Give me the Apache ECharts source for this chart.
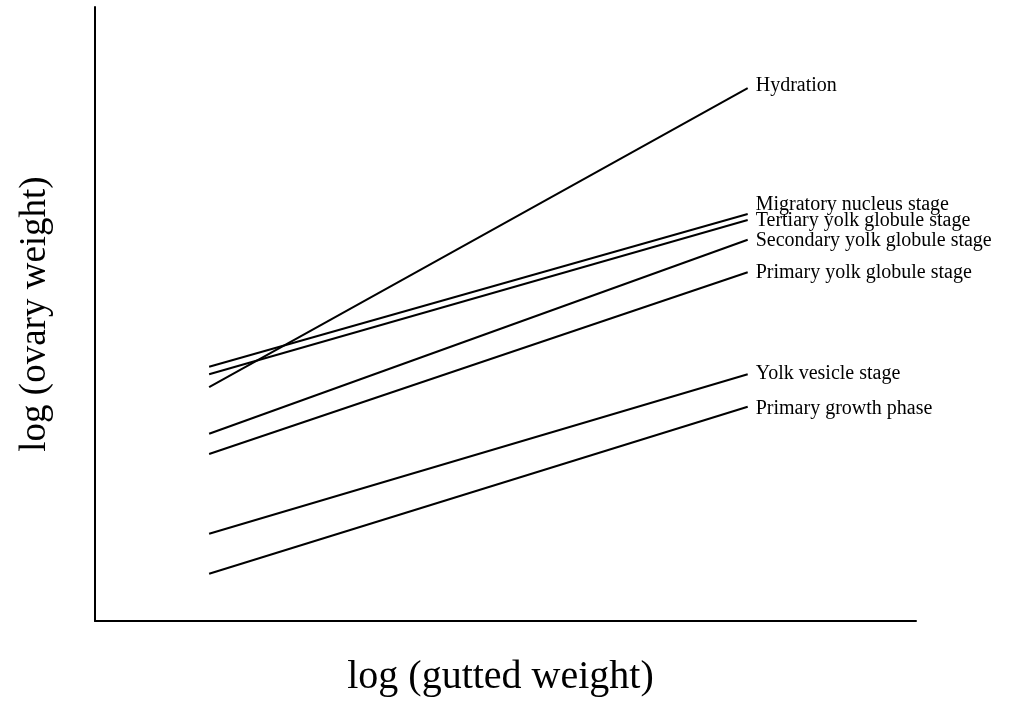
<!DOCTYPE html>
<html><head><meta charset="utf-8">
<script src="https://cdn.jsdelivr.net/npm/echarts@6/dist/echarts.min.js"></script>
<style>html,body{margin:0;padding:0;background:#fff}#c{width:1019px;height:701px}</style>
</head><body><div id="c"></div>
<script>
var stages = ["Hydration","Migratory nucleus stage","Tertiary yolk globule stage","Secondary yolk globule stage","Primary yolk globule stage","Yolk vesicle stage","Primary growth phase"];
var xStart = 1.39, xEnd = 7.95;
var yStart = [3.81, 4.14, 4.02, 3.05, 2.72, 1.42, 0.77];
var yEnd   = [8.68, 6.63, 6.53, 6.21, 5.68, 4.02, 3.49];
var labelOffsets = [[0,-2],[0,-9],[0,1],[0,1],[0,1],[0,0],[0,2]];

var series = stages.map(function(name, i){
  return {
    name: name, type: 'line', symbol: 'none', silent: true,
    lineStyle: {color: '#000', width: 2},
    endLabel: {show: true, formatter: name, offset: labelOffsets[i], color: '#000', fontFamily: 'Liberation Serif', fontSize: 20, distance: 8},
    labelLayout: {hideOverlap: false},
    data: [[xStart, yStart[i]], [xEnd, yEnd[i]]],
    animation: false
  };
});

var chart = echarts.init(document.getElementById('c'), null, {renderer: 'canvas'});
chart.setOption({
  backgroundColor: '#fff',
  grid: {left: 95, right: 103, top: 7, bottom: 80, outerBoundsMode: 'none', containLabel: false},
  xAxis: {type: 'value', min: 0, max: 10, name: 'log (gutted weight)', nameLocation: 'middle', nameGap: 36,
    nameTextStyle: {fontFamily: 'Liberation Serif', fontSize: 40, color: '#000', padding: [0, 10, 0, 0]},
    axisLine: {show: true, lineStyle: {color: '#000', width: 2}}, axisTick: {show: false}, axisLabel: {show: false}, splitLine: {show: false}},
  yAxis: {type: 'value', min: 0, max: 10, name: 'log (ovary weight)', nameLocation: 'middle', nameGap: 41,
    nameTextStyle: {fontFamily: 'Liberation Serif', fontSize: 37, color: '#000'},
    axisLine: {show: true, lineStyle: {color: '#000', width: 2}}, axisTick: {show: false}, axisLabel: {show: false}, splitLine: {show: false}},
  series: series,
  animation: false
});
</script></body></html>
